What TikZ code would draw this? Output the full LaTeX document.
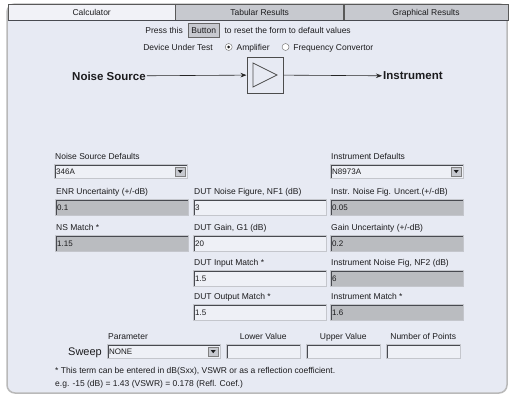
\documentclass[tikz,border=0pt]{standalone}
\usepackage{fontspec}
\setmainfont{Liberation Sans}
\usepackage{tikz}
\usetikzlibrary{positioning,arrows.meta,calc}

\definecolor{panelbg}{RGB}{231,234,243}
\definecolor{tabgray}{RGB}{199,201,207}
\definecolor{tablight}{RGB}{241,242,247}
\definecolor{fieldgray}{RGB}{186,188,192}
\definecolor{fieldwhite}{RGB}{238,240,246}
\definecolor{edgedark}{RGB}{72,74,80}
\definecolor{edgelight}{RGB}{196,198,204}
\definecolor{textdark}{RGB}{28,28,30}

\tikzstyle{lbl} = [inner sep=0pt, anchor=west, text height=6pt, text depth=0pt, font=\fontsize{8.5}{10}\selectfont, text=textdark]
\tikzstyle{big} = [inner sep=0pt, text height=8pt, text depth=0pt, font=\fontsize{11}{13}\selectfont, text=textdark]
\tikzstyle{heading} = [inner sep=1pt, anchor=west, font=\fontsize{11.5}{13}\selectfont\bfseries, text=textdark]
\tikzstyle{tab} = [rectangle, draw=gray!70!black, minimum height=16pt, inner sep=0pt, text height=6pt, text depth=0pt, font=\fontsize{8.5}{10}\selectfont, text=textdark, anchor=north west]
\tikzstyle{field} = [rectangle, draw=edgelight, inner xsep=2pt, inner ysep=0pt, minimum height=16pt, text width=129pt, align=left, anchor=north west, text height=5.7pt, text depth=0pt, font=\fontsize{8}{9}\selectfont, text=textdark,
  path picture={\draw[edgedark, line width=3pt] (path picture bounding box.south west) -- (path picture bounding box.north west) -- (path picture bounding box.north east);}]
\tikzstyle{grayfield} = [field, fill=fieldgray]
\tikzstyle{whitefield} = [field, fill=fieldwhite]
\tikzstyle{dropdown} = [field, fill=fieldwhite, minimum height=14pt,
  path picture={\draw[edgedark, line width=3pt] (path picture bounding box.south west) -- (path picture bounding box.north west) -- (path picture bounding box.north east);
    \filldraw[fill=tabgray, draw=gray] ([xshift=-12pt,yshift=-2.5pt]path picture bounding box.north east) rectangle ([xshift=-2pt,yshift=2pt]path picture bounding box.south east);
    \fill[textdark] ([xshift=-9.5pt,yshift=1.2pt]path picture bounding box.east) -- ([xshift=-4.5pt,yshift=1.2pt]path picture bounding box.east) -- ([xshift=-7pt,yshift=-2pt]path picture bounding box.east) -- cycle;}]
\tikzstyle{button} = [rectangle, fill=tabgray, draw=gray!80!black, minimum width=31pt, minimum height=14pt, inner sep=0pt, text height=6pt, text depth=0pt, font=\fontsize{8.5}{10}\selectfont, text=textdark]
\tikzstyle{radio} = [circle, draw=gray!80!black, fill=white, minimum size=7pt, inner sep=0pt]
\tikzstyle{radioon} = [radio, path picture={\fill[textdark] (path picture bounding box.center) circle (1.5pt);}]
\tikzstyle{amp} = [rectangle, draw=gray!60!black, line width=1pt, minimum size=36pt, inner sep=0pt, fill=panelbg,
  path picture={\draw[gray!60!black, line width=0.8pt] ([xshift=-12pt,yshift=12pt]path picture bounding box.center) -- ([xshift=12pt]path picture bounding box.center) -- ([xshift=-12pt,yshift=-12pt]path picture bounding box.center) -- cycle;}]
\tikzstyle{arrow} = [-{Stealth[length=6pt,width=4.5pt]}, draw=gray!30!black, line width=0.6pt]

\begin{document}
\begin{tikzpicture}[x=1pt, y=-1pt]
\fill[white] (0,0) rectangle (509,397);
\useasboundingbox (0,0) rectangle (509,397);
\filldraw[fill=panelbg, draw=gray!55, line width=1.5pt, rounded corners=8pt] (7,4) rectangle (507,393);

% tabs
\node[tab, fill=tablight, minimum width=167pt] (tcalc) at (8,4) {Calculator};
\node[tab, fill=tabgray, minimum width=168pt, right=0pt of tcalc] (ttab) {Tabular Results};
\node[tab, fill=tabgray, minimum width=164pt, right=0pt of ttab] (tgraph) {Graphical Results};
\draw[edgedark, line width=1pt] (tcalc.south west) -- (tgraph.south east);

% reset button and device under test
\node[lbl, anchor=east] (press) at (183,30) {Press this};
\node[button, right=5pt of press] (btn) {Button};
\node[lbl, right=5pt of btn] (reset) {to reset the form to default values};
\node[lbl, anchor=east] (dut) at (213,47) {Device Under Test};
\node[radioon, right=12pt of dut] (ramp) {};
\node[lbl, right=4pt of ramp] (lamp) {Amplifier};
\node[radio, right=12pt of lamp] (rfreq) {};
\node[lbl, right=4pt of rfreq] (lfreq) {Frequency Convertor};

% block diagram
\node[amp] (amp) at (265,75) {};
\node[heading] (src) at (71,76) {Noise Source};
\node[heading] (inst) at (382,76) {Instrument};
\draw[arrow] (src) -- (amp);
\draw[arrow] (amp) -- (inst);

% left column
\node[dropdown] (nsdef) at (54,164) {346A};
\node[grayfield] (enr) at (55,199) {0.1};
\node[grayfield] (nsm) at (55,235) {1.15};
\node[lbl, above right=4pt and 1pt of nsdef.north west] {Noise Source Defaults};
\node[lbl, above right=4pt and 1pt of enr.north west] {ENR Uncertainty (+/-dB)};
\node[lbl, above right=4pt and 1pt of nsm.north west] {NS Match *};

% middle column
\node[whitefield] (nf1) at (193,199) {3};
\node[whitefield] (g1) at (193,235) {20};
\node[whitefield] (inm) at (193,270) {1.5};
\node[whitefield] (outm) at (193,304) {1.5};
\node[lbl, above right=4pt and 1pt of nf1.north west] {DUT Noise Figure, NF1 (dB)};
\node[lbl, above right=4pt and 1pt of g1.north west] {DUT Gain, G1 (dB)};
\node[lbl, above right=4pt and 1pt of inm.north west] {DUT Input Match *};
\node[lbl, above right=4pt and 1pt of outm.north west] {DUT Output Match *};

% right column
\node[dropdown] (instdef) at (330,164) {N8973A};
\node[grayfield] (nfu) at (330,199) {0.05};
\node[grayfield] (gu) at (330,235) {0.2};
\node[grayfield] (nf2) at (330,270) {6};
\node[grayfield] (im) at (330,304) {1.6};
\node[lbl, above right=4pt and 1pt of instdef.north west] {Instrument Defaults};
\node[lbl, above right=4pt and 1pt of nfu.north west] {Instr. Noise Fig. Uncert.(+/-dB)};
\node[lbl, above right=4pt and 1pt of gu.north west] {Gain Uncertainty (+/-dB)};
\node[lbl, above right=4pt and 1pt of nf2.north west] {Instrument Noise Fig, NF2 (dB)};
\node[lbl, above right=4pt and 1pt of im.north west] {Instrument Match *};

% sweep
\node[dropdown, text width=109pt] (param) at (107,344) {NONE};
\node[whitefield, text width=70pt, minimum height=14pt] (lower) at (226,344) {};
\node[whitefield, text width=70pt, minimum height=14pt] (upper) at (306,344) {};
\node[whitefield, text width=70pt, minimum height=14pt] (npts) at (386,344) {};
\node[big, left=5pt of param] (sweep) {Sweep};
\node[lbl, above right=4pt and 1pt of param.north west] {Parameter};
\node[lbl, above=4pt of lower] {Lower Value};
\node[lbl, above=4pt of upper] {Upper Value};
\node[lbl, above=4pt of npts] {Number of Points};

% notes
\node[lbl] (note1) at (55,370) {* This term can be entered in dB(Sxx), VSWR or as a reflection coefficient.};
\node[lbl] (note2) at (55,383) {e.g. -15 (dB) = 1.43 (VSWR) = 0.178 (Refl. Coef.)};
\end{tikzpicture}
\end{document}
